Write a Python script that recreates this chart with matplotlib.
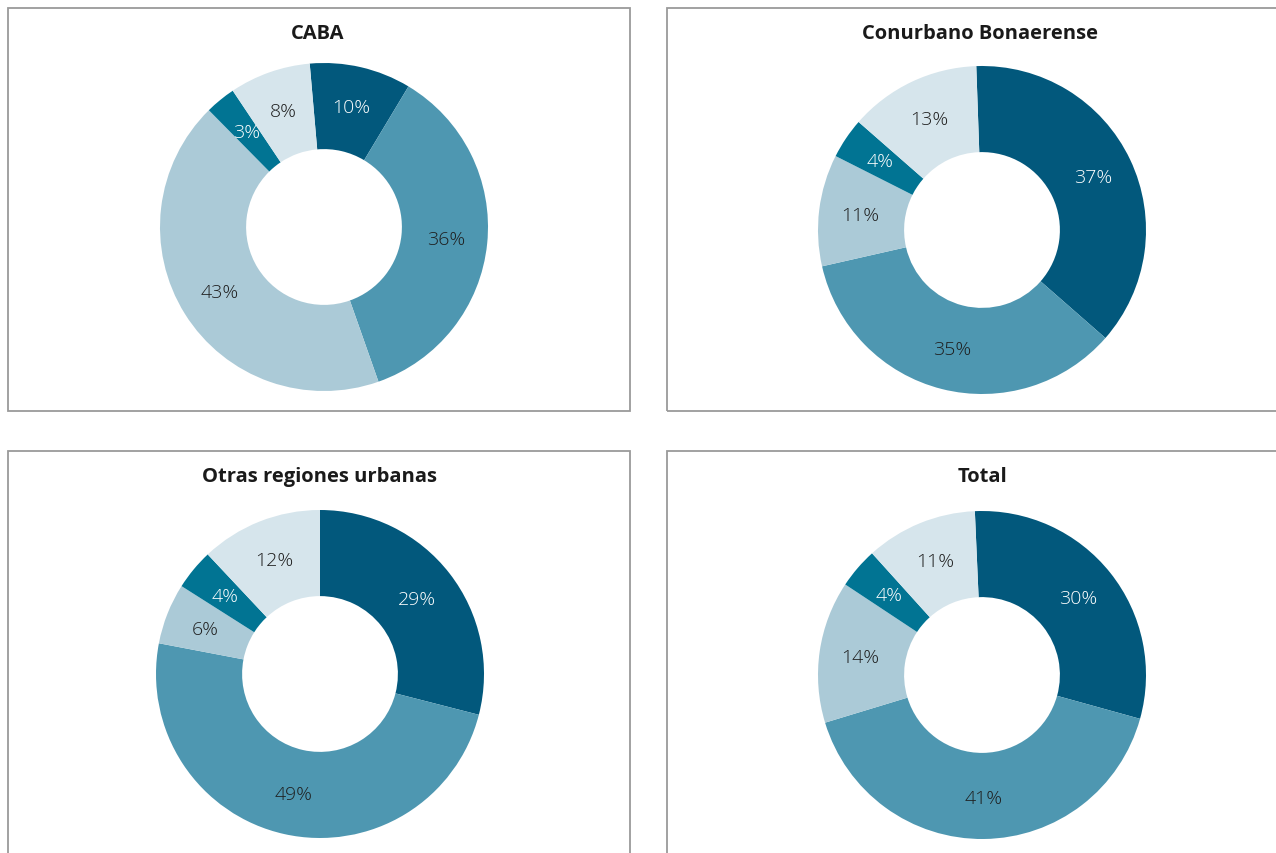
import numpy as np
import matplotlib.pyplot as plt
from matplotlib.patches import Rectangle

plt.rcParams['font.family'] = ['Open Sans', 'DejaVu Sans']

titles = ['CABA', 'Conurbano Bonaerense', 'Otras regiones urbanas', 'Total']
# order of slices: clockwise from the top
caba = [10, 36, 43, 3, 8]
conurbano = [37, 35, 11, 4, 13]
otras = [29, 49, 6, 4, 12]
total = [30, 41, 14, 4, 11]
series = [caba, conurbano, otras, total]

colors = ['#02587c', '#4e97b1', '#abcad7', '#017493', '#d6e5ec']
label_colors = ['white', '#1e1e1e', '#1e1e1e', 'white', '#1e1e1e']

W, H = 1276, 854
fig = plt.figure(figsize=(W / 100, H / 100), dpi=100)

# panel frames (pixels: left, top, right, bottom)
frames = [(8, 9, 630, 412), (667, 9, 1300, 412), (8, 452, 630, 900), (667, 452, 1300, 900)]
title_x = [318, 980, 320, 982]
centers = [(324, 228), (982, 231), (320, 675), (982, 676)]
starts = [95, 92, 90, 92.5]
R = 164
hole = 0.475

for i in range(4):
    l, t, r, b = frames[i]
    fig.patches.append(Rectangle((l / W, 1 - b / H), (r - l) / W, (b - t) / H,
                                 transform=fig.transFigure, fill=False,
                                 edgecolor='#9a9a9a', linewidth=1.3))
    fig.text(title_x[i] / W, 1 - (34 if i < 2 else 477) / H,
             titles[i], ha='center', va='center', fontsize=14.5, fontweight='bold',
             color='#1a1a1a')

    cx, cy = centers[i]
    half = 200
    ax = fig.add_axes([(cx - half) / W, 1 - (cy + half) / H, 2 * half / W, 2 * half / H])
    wedges, _ = ax.pie(series[i], colors=colors, startangle=starts[i], counterclock=False,
                       radius=1, wedgeprops=dict(width=1 - hole, linewidth=0))
    for j, w in enumerate(wedges):
        ang = np.deg2rad((w.theta1 + w.theta2) / 2)
        rr = 0.75
        ax.text(rr * np.cos(ang), rr * np.sin(ang), f'{series[i][j]}%',
                ha='center', va='center', fontsize=14, fontweight='light',
                color=label_colors[j])
    lim = half / R
    ax.set_xlim(-lim, lim)
    ax.set_ylim(-lim, lim)
    ax.set_aspect('equal')
    ax.axis('off')

plt.savefig('out.png', dpi=100)
